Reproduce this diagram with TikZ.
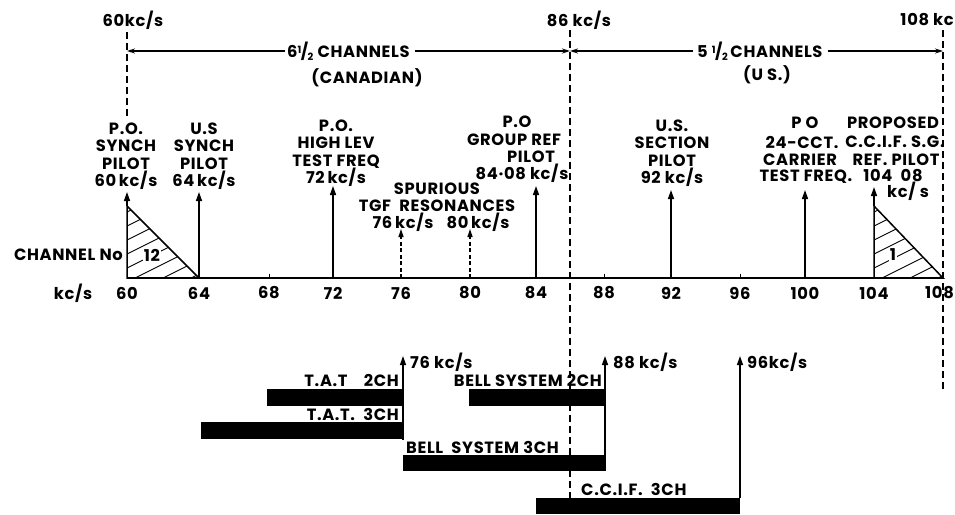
\documentclass[tikz,border=0pt]{standalone}
\usepackage{fontspec}
\setmainfont{Poppins}[LetterSpace=4]
\usetikzlibrary{arrows.meta}
\newcommand\halfsym{\raisebox{4pt}{\fontsize{10}{10}\selectfont 1}\kern-0.5pt/\kern-0.5pt\raisebox{-3pt}{\fontsize{10}{10}\selectfont 2}}
\begin{document}
\begin{tikzpicture}[x=1pt,y=-1pt,
  lbl/.style={font=\fontsize{16.3}{17.5}\selectfont\bfseries, inner sep=0pt, align=center},
  ln/.style={line width=1.5pt},
  arr/.style={line width=1.5pt, -{Triangle[length=9pt,width=6pt]}},
  darr/.style={line width=1.3pt, dash pattern=on 4pt off 2.5pt, -{Triangle[length=8pt,width=5pt]}},
  dline/.style={line width=1.5pt, dash pattern=on 7pt off 4pt},
  hatch/.style={line width=0.9pt},
  bar/.style={fill=black, draw=none},
  harr/.style={line width=1.2pt, -{Stealth[length=8pt,width=5pt]}}
]
\useasboundingbox (0,0) rectangle (955,514);

% ---------- header ----------
\node[lbl] (h60) at (133,20) {60kc/s};
\node[lbl] (h86) at (579,20) {86 kc/s};
\node[lbl, anchor=east] (h108) at (954,20) {108 kc};

\coordinate (d60t) at (127,32);  \coordinate (d60b) at (127,117);
\coordinate (d86t) at (570,30);  \coordinate (d86b) at (570,498);
\coordinate (d108t) at (943,30); \coordinate (d108b) at (943,392);
\draw[dline] (d60t) -- (d60b);
\draw[dline] (d86t) -- (d86b);
\draw[dline] (d108t) -- (d108b);

\coordinate (r60) at (127,51);
\coordinate (r86) at (570,51);
\coordinate (r108) at (943,51);
\node[lbl, anchor=west] (can) at (287,51) {6\halfsym\ CHANNELS};
\node[lbl] (canb) at (367,78) {(CANADIAN)};
\node[lbl, anchor=west] (us) at (697,51) {5 \halfsym\,CHANNELS};
\node[lbl] (usb) at (767,75) {(U S.)};
\draw[harr] (can.west) ++(-2,0) -- (r60);
\draw[harr] (can.east) ++(5,0) -- (r86);
\draw[harr] (us.west) ++(-4,0) -- (r86);
\draw[harr] (us.east) ++(5,0) -- (r108);

% ---------- frequency labels ----------
\node[lbl, anchor=north] (l60) at (126,122.5) {P.O.\\SYNCH\\PILOT\\60\,kc/s};
\node[lbl, anchor=north] (l64) at (204,122.5) {U.S\\SYNCH\\PILOT\\64\,kc/s};
\node[lbl, anchor=north] (l72) at (336,119.5) {P.O.\\HIGH LEV\\TEST FREQ\\72\,kc/s};
\node[lbl, anchor=north] (lsp) at (437,182.5) {SPURIOUS\\TGF\ \ RESONANCES};
\node[lbl] (l76) at (403,222) {76\,kc/s};
\node[lbl] (l80) at (478,222) {80\,kc/s};
\node[lbl] (l84a) at (517,122) {P.O};
\node[lbl] (l84b) at (514,140) {GROUP REF};
\node[lbl] (l84c) at (531,157) {PILOT};
\node[lbl] (l84d) at (522,173) {84·08 kc/s};
\node[lbl, anchor=north] (l92) at (672,119.5) {U.S.\\SECTION\\PILOT\\92 kc/s};
\node[lbl] (l100a) at (805,123) {P O};
\node[lbl] (l100b) at (802,142) {24-CCT.};
\node[lbl] (l100c) at (800,160) {CARRIER};
\node[lbl] (l100d) at (806,177) {TEST FREQ.};
\node[lbl] (l104a) at (893,123) {PROPOSED};
\node[lbl] (l104b) at (895,142) {C.C.I.F. S.G.};
\node[lbl] (l104c) at (896,160) {REF. PILOT};
\node[lbl] (l104d) at (893,176) {104\ \ 08};
\node[lbl] (l104e) at (908,191) {kc/ s};

% ---------- axis ----------
\coordinate (ax0) at (127,278);
\coordinate (ax1) at (943,278);
\draw[ln] (ax0) -- (ax1);
\node[lbl] (kcs) at (73,293) {kc/s};
\node[lbl, anchor=east] (chno) at (123,255) {CHANNEL No};
\foreach \f/\x in {60/127,64/199,68/269,72/333,76/401,80/470,84/536,88/604,92/671,96/740,100/805,104/874}{
  \coordinate (t\f) at (\x,278);
  \draw[line width=1pt] (t\f) -- ++(0,-4);
  \node[lbl] (n\f) at (\x,293) {\f};
}
\coordinate (t108) at (943,278);
\node[lbl, anchor=east] (n108) at (954,293) {108};

% ---------- triangles ----------
\coordinate (tA) at (127,206);
\coordinate (tB) at (874,206);
\begin{scope}
  \clip (tA) -- (t60) -- (t64) -- cycle;
  \foreach \c in {212,226,240,254,268,282,296,310}
    \draw[hatch] (127,\c) -- ++(80,-40);
\end{scope}
\draw[ln, line join=miter] (tA) -- (t60) -- (t64) -- cycle;
\node[lbl, fill=white, inner sep=1pt] (c12) at (152,255) {12};
\begin{scope}
  \clip (tB) -- (t104) -- (t108) -- cycle;
  \foreach \c in {212,226,240,254,268,282,296,310}
    \draw[hatch] (874,\c) -- ++(80,-40);
\end{scope}
\draw[ln, line join=miter] (tB) -- (t104) -- (t108) -- cycle;
\node[lbl, fill=white, inner sep=1pt] (c1) at (893,255) {1};

% ---------- arrows on axis ----------
\coordinate (p60) at (127,192);
\coordinate (p64) at (199,192);
\coordinate (p72) at (333,186);
\coordinate (p76) at (401,229);
\coordinate (p80) at (470,229);
\coordinate (p84) at (536,186);
\coordinate (p92) at (671,190);
\coordinate (p100) at (805,190);
\coordinate (p104) at (874,187);
\draw[arr] (tA) -- (p60);
\draw[arr] (t64) -- (p64);
\draw[arr] (t72) -- (p72);
\draw[darr] (t76) -- (p76);
\draw[darr] (t80) -- (p80);
\draw[arr] (t84) -- (p84);
\draw[arr] (t92) -- (p92);
\draw[arr] (t100) -- (p100);
\draw[arr] (tB) -- (p104);

% ---------- bottom bars ----------
\path[bar] (267,389) rectangle (403,406);
\path[bar] (201,422) rectangle (403,439);
\path[bar] (469,389) rectangle (605,406);
\path[bar] (403,455) rectangle (605,471);
\path[bar] (536,498) rectangle (740,514);

\node[lbl, anchor=east] (tat2) at (399,380) {T.A.T\quad 2CH};
\node[lbl, anchor=east] (tat3) at (399,414) {T.A.T.\ \ 3CH};
\node[lbl, anchor=east] (bell2) at (602,380) {BELL\ SYSTEM 2CH};
\node[lbl, anchor=west] (bell3) at (406,447) {BELL\ \ SYSTEM 3CH};
\node[lbl, anchor=west] (ccif) at (581,489) {C.C.I.F.\ \ 3CH};

\coordinate (b76) at (403,440);  \coordinate (q76) at (403,356);
\coordinate (b88) at (605,471);  \coordinate (q88) at (605,356);
\coordinate (b96) at (740,498);  \coordinate (q96) at (740,356);
\draw[arr, line width=1.3pt] (b76) -- (q76);
\draw[arr, line width=1.3pt] (b88) -- (q88);
\draw[arr, line width=1.3pt] (b96) -- (q96);
\node[lbl, anchor=west] (k76) at (410,362) {76 kc/s};
\node[lbl, anchor=west] (k88) at (613,362) {88 kc/s};
\node[lbl, anchor=west] (k96) at (747,362) {96kc/s};
\end{tikzpicture}
\end{document}
